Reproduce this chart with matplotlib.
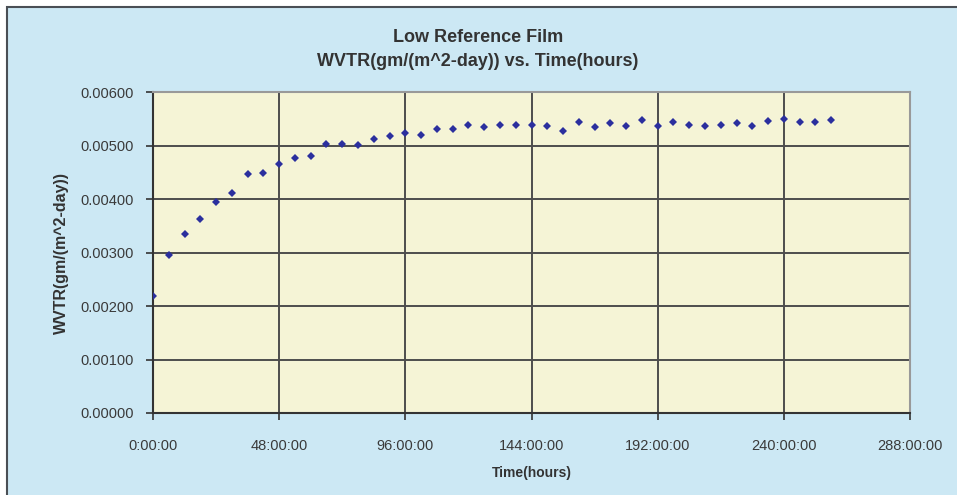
import matplotlib
matplotlib.use("Agg")
import matplotlib.pyplot as plt
from matplotlib.patches import Rectangle

plt.rcParams['font.family'] = ['Liberation Sans', 'DejaVu Sans']

# Data: time (hours) and WVTR values
time_hours = [0, 6, 12, 18, 24, 30, 36, 42, 48, 54, 60, 66, 72, 78, 84, 90,
              96, 102, 108, 114, 120, 126, 132, 138, 144, 150, 156, 162, 168,
              174, 180, 186, 192, 198, 204, 210, 216, 222, 228, 234, 240, 246,
              252, 258]
wvtr = [0.00218, 0.00296, 0.00334, 0.00363, 0.00395, 0.00411, 0.00447, 0.00448,
        0.00465, 0.00477, 0.00481, 0.00503, 0.00503, 0.00501, 0.00512, 0.00518,
        0.00524, 0.00520, 0.00530, 0.00531, 0.00538, 0.00534, 0.00538, 0.00538,
        0.00538, 0.00536, 0.00528, 0.00543, 0.00535, 0.00542, 0.00536, 0.00548,
        0.00536, 0.00543, 0.00538, 0.00536, 0.00538, 0.00542, 0.00537, 0.00545,
        0.00550, 0.00543, 0.00543, 0.00548]

x_ticks = [0, 48, 96, 144, 192, 240, 288]
x_tick_labels = ["0:00:00", "48:00:00", "96:00:00", "144:00:00", "192:00:00",
                 "240:00:00", "288:00:00"]
y_ticks = [0.0, 0.001, 0.002, 0.003, 0.004, 0.005, 0.006]
y_tick_labels = ["0.00000", "0.00100", "0.00200", "0.00300", "0.00400",
                 "0.00500", "0.00600"]

W, H = 957, 495
fig = plt.figure(figsize=(W / 100, H / 100), dpi=100, facecolor='white')

# chart area background with border
bg = Rectangle((7 / W, -0.01), 1.0, (488 / H) + 0.01, transform=fig.transFigure,
               facecolor='#cce8f4', edgecolor='#4a4f55', linewidth=1.5, zorder=-5)
fig.patches.append(bg)

ax = fig.add_axes([153 / W, (H - 413) / H, (910 - 153) / W, (413 - 92) / H])
ax.set_zorder(2)
ax.set_facecolor('#f5f4d6')

ax.plot(time_hours, wvtr, linestyle='none', marker='D', markersize=4.5,
        color='#2b2f9e', markeredgewidth=0, zorder=3)

ax.set_xlim(0, 288)
ax.set_ylim(0, 0.006)
ax.set_xticks(x_ticks)
ax.set_xticklabels(x_tick_labels, fontsize=10.5, color='#3a3a3a')
ax.set_yticks(y_ticks)
ax.set_yticklabels(y_tick_labels, fontsize=10.5, color='#3a3a3a')
ax.tick_params(axis='both', direction='out', length=5, width=1.2, color='#333333')
ax.tick_params(axis='y', pad=9)
ax.tick_params(axis='x', pad=14)

ax.grid(True, color='#4d4d4d', linewidth=1.4, zorder=1)
ax.set_axisbelow(True)
for side in ['left', 'bottom']:
    ax.spines[side].set_color('#333333')
    ax.spines[side].set_linewidth(1.5)
for side in ['right', 'top']:
    ax.spines[side].set_color('#999999')
    ax.spines[side].set_linewidth(1.5)

ax.set_xlabel("Time(hours)", fontsize=10, fontweight='bold', color='#333333', labelpad=9)
ax.set_ylabel("WVTR(gm/(m^2-day))", fontsize=11.5, fontweight='bold', color='#333333', labelpad=8)

fig.text(478 / W, 1 - 37 / H, "Low Reference Film", ha='center', va='center',
         fontsize=13, fontweight='bold', color='#333333')
fig.text(478 / W, 1 - 62 / H, "WVTR(gm/(m^2-day)) vs. Time(hours)", ha='center', va='center',
         fontsize=13, fontweight='bold', color='#333333')

fig.savefig("out.png", dpi=100, facecolor=fig.get_facecolor())
